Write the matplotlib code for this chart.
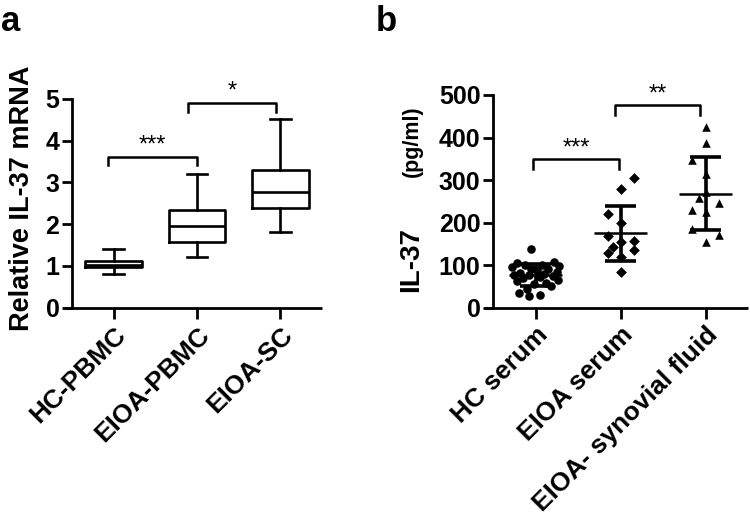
import numpy as np
import matplotlib

matplotlib.use("Agg")
import matplotlib.pyplot as plt

plt.rcParams["font.family"] = ["Liberation Sans", "DejaVu Sans"]
plt.rcParams["font.weight"] = "bold"

# ---- panel a: relative IL-37 mRNA (box plots) ----
a_groups = ["HC-PBMC", "EIOA-PBMC", "EIOA-SC"]
a_whislo = [0.81, 1.21, 1.81]
a_q1 = [0.97, 1.57, 2.38]
a_med = [1.03, 1.96, 2.76]
a_q3 = [1.13, 2.35, 3.31]
a_whishi = [1.40, 3.20, 4.51]

# ---- panel b: IL-37 pg/ml (scatter, mean +- SD) ----
b_groups = ["HC serum", "EIOA serum", "EIOA- synovial fluid"]
hc_serum = [138, 107, 104, 101, 100, 98, 95, 92, 90, 88, 85, 82, 80, 78,
            76, 74, 72, 70, 66, 62, 58, 55, 50, 45, 35, 30, 28]
hc_jitter = [-0.05, 0.22, -0.22, 0.08, -0.12, 0.28, -0.28, 0.15, -0.05,
             0.02, 0.25, -0.18, 0.10, -0.25, -0.08, 0.20, 0.05, -0.15,
             0.27, -0.22, 0.12, -0.02, 0.18, -0.10, -0.20, 0.05, -0.08]
eioa_serum = [306, 278, 220, 200, 168, 155, 157, 142, 128, 136, 120, 85]
eioa_jitter = [0.16, 0.0, -0.15, 0.0, -0.15, 0.0, 0.16, -0.09, -0.15,
               0.16, 0.0, 0.0]
syn_fluid = [425, 386, 347, 314, 259, 245, 230, 226, 185, 171, 155, 272]
syn_jitter = [0.0, 0.0, -0.16, 0.0, -0.08, 0.16, -0.16, 0.0, -0.16, 0.16,
              0.0, 0.0]

fig = plt.figure(figsize=(7.5, 5.27), dpi=100)
ax_a = fig.add_axes([72 / 750, 1 - 307.7 / 527, 250 / 750, 208.7 / 527])
ax_b = fig.add_axes([493 / 750, 1 - 307.7 / 527, 255 / 750, 212.7 / 527])


def style(ax, width_px):
    for s in ("top", "right"):
        ax.spines[s].set_visible(False)
    ax.spines["left"].set_linewidth(2.0)
    ax.spines["bottom"].set_visible(False)
    # GraphPad-style x axis line that runs past the y spine
    ext = 8 / width_px
    ax.plot([-ext, 1], [0, 0], transform=ax.transAxes, color="black",
            lw=2.0, clip_on=False, solid_capstyle="butt")
    ax.tick_params(axis="y", width=2.0, length=7, labelsize=18, pad=2)
    ax.tick_params(axis="x", width=2.0, length=8, labelsize=19, pad=3)
    ax.set_xlim(-0.5, 2.5)


def bracket(ax, x0, x1, y, leg, text):
    ax.plot([x0, x0, x1, x1], [y - leg, y, y, y - leg], color="black",
            lw=1.8, clip_on=False)
    ax.text((x0 + x1) / 2, y, text, ha="center", va="bottom", fontsize=17,
            fontweight="normal", clip_on=False)


# ---------------- panel a ----------------
style(ax_a, 250)
stats = [dict(med=m, q1=q1, q3=q3, whislo=lo, whishi=hi, fliers=[])
         for m, q1, q3, lo, hi in zip(a_med, a_q1, a_q3, a_whislo, a_whishi)]
lp = dict(color="black", linewidth=1.9)
ax_a.bxp(stats, positions=range(3), widths=0.68, showfliers=False,
         boxprops=lp, whiskerprops=lp, capprops=lp,
         medianprops=lp, capwidths=0.25)
ax_a.set_ylim(0, 5)
ax_a.set_yticks(range(6))
ax_a.set_xticks(range(3))
ax_a.set_xticklabels(a_groups, rotation=45, ha="right",
                     rotation_mode="anchor", fontweight="bold")
fig.text(22 / 750, 1 - 198 / 527, "Relative IL-37 mRNA", rotation=90,
         fontsize=19.5, fontweight="bold", ha="center", va="center")
bracket(ax_a, -0.07, 1.0, 3.62, 0.19, "***")
bracket(ax_a, 0.89, 1.95, 4.91, 0.21, "*")

# ---------------- panel b ----------------
style(ax_b, 255)
series = [(hc_serum, hc_jitter, "o"), (eioa_serum, eioa_jitter, "D"),
          (syn_fluid, syn_jitter, "^")]
for i, (vals, jit, mk) in enumerate(series):
    vals = np.asarray(vals, float)
    ax_b.scatter(i + np.asarray(jit), vals, marker=mk,
                 s=38 if mk != "D" else 30,
                 color="black", zorder=3, linewidths=0)
    mean = vals.mean()
    sd = vals.std(ddof=1)
    ax_b.hlines(mean, i - 0.31, i + 0.31, color="black", lw=1.8, zorder=4)
    ax_b.vlines(i, mean - sd, mean + sd, color="black", lw=2.6, zorder=4)
    ax_b.hlines([mean - sd, mean + sd], i - 0.18, i + 0.18, color="black",
                lw=2.6, zorder=4)
ax_b.set_ylim(0, 500)
ax_b.set_yticks(range(0, 501, 100))
ax_b.set_xticks(range(3))
ax_b.set_xticklabels(b_groups, rotation=45, ha="right",
                     rotation_mode="anchor", fontweight="bold")
fig.text(411 / 750, 1 - 259 / 527, "IL-37", rotation=90, fontsize=20,
         fontweight="bold", ha="center", va="center")
fig.text(412 / 750, 1 - 141 / 527, "(pg/ml)", rotation=90, fontsize=15.5,
         fontweight="bold", ha="center", va="center")
bracket(ax_b, -0.03, 0.98, 349, 24, "***")
bracket(ax_b, 0.93, 1.94, 476, 23, "**")

fig.text(0.002, 1 - 31 / 527, "a", fontsize=25, fontweight="bold",
         ha="left", va="baseline")
fig.text(376 / 750, 1 - 31 / 527, "b", fontsize=25, fontweight="bold",
         ha="left", va="baseline")

fig.savefig("out.png", dpi=100)
